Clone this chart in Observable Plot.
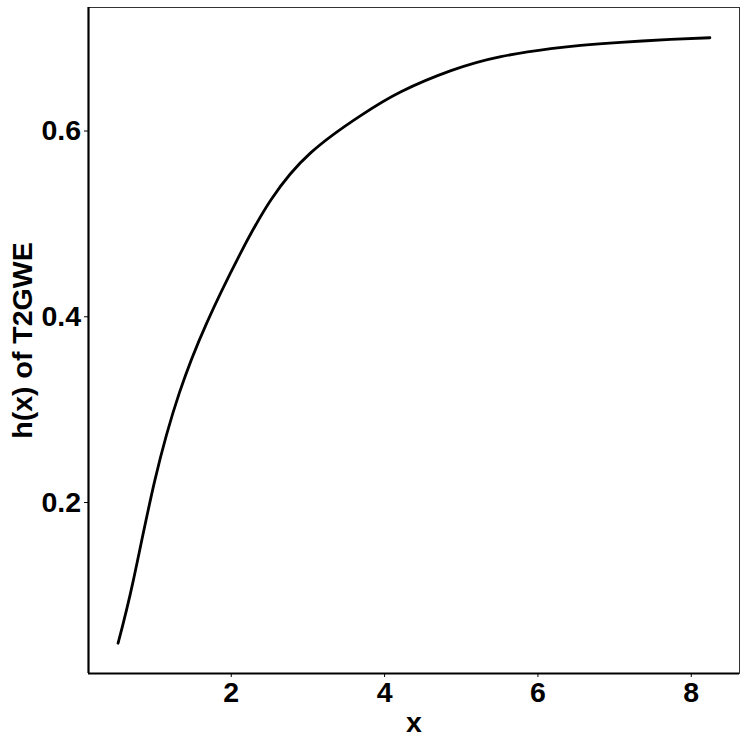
<!DOCTYPE html>
<html>
<head>
<meta charset="utf-8">
<script src="https://cdn.jsdelivr.net/npm/d3@7"></script>
<script src="https://cdn.jsdelivr.net/npm/@observablehq/plot@0.6"></script>
<style>
  html, body { margin: 0; padding: 0; background: #fff; }
  #chart { width: 747px; height: 747px; }
</style>
</head>
<body>
<div id="chart"></div>
<script>
// Values
const xValues = [0.524, 0.720, 1.001, 1.323, 1.681, 2.108, 2.521, 3.042, 3.693, 4.214, 4.866, 5.517, 6.168, 6.559, 7.080, 7.731, 8.243];
const hValues = [0.0485, 0.1151, 0.2230, 0.3180, 0.3935, 0.4664, 0.5263, 0.5770, 0.6169, 0.6423, 0.6650, 0.6801, 0.6887, 0.6923, 0.6955, 0.6986, 0.7004];
const xTicks = [2, 4, 6, 8];
const yTicks = [0.2, 0.4, 0.6];
const xTitle = "x";
const yTitle = "h(x) of T2GWE";

const data = xValues.map((x, i) => ({x, h: hValues[i]}));

function expand(vals) {
  const lo = d3.min(vals), hi = d3.max(vals), s = (hi - lo) * 0.05;
  return [lo - s, hi + s];
}
const xDomain = expand(xValues);
const yDomain = expand(hValues);

const chart = Plot.plot({
  width: 747,
  height: 747,
  marginLeft: 88,
  marginRight: 8,
  marginTop: 7,
  marginBottom: 74,
  style: {
    fontFamily: "'Liberation Sans', Arial, Helvetica, sans-serif",
    fontSize: "28.5px",
    fontWeight: "bold",
    color: "#000",
    background: "#fff"
  },
  x: {
    domain: xDomain,
    ticks: xTicks,
    tickSize: 4,
    tickPadding: 4,
    label: xTitle,
    labelAnchor: "center",
    labelOffset: 58,
    labelArrow: "none"
  },
  y: {
    domain: yDomain,
    ticks: yTicks,
    tickFormat: d3.format(".1f"),
    tickSize: 4,
    tickPadding: 3.5,
    label: yTitle,
    labelAnchor: "center",
    labelOffset: 77,
    labelArrow: "none"
  },
  marks: [
    Plot.frame({stroke: "#333", strokeWidth: 1}),
    Plot.line(data, {x: "x", y: "h", stroke: "#000", strokeWidth: 2.8, curve: "natural"}),
    Plot.ruleX([xDomain[0]], {stroke: "#000", strokeWidth: 2.2}),
    Plot.ruleY([yDomain[0]], {stroke: "#000", strokeWidth: 2.2})
  ]
});
document.getElementById("chart").appendChild(chart);
</script>
</body>
</html>
